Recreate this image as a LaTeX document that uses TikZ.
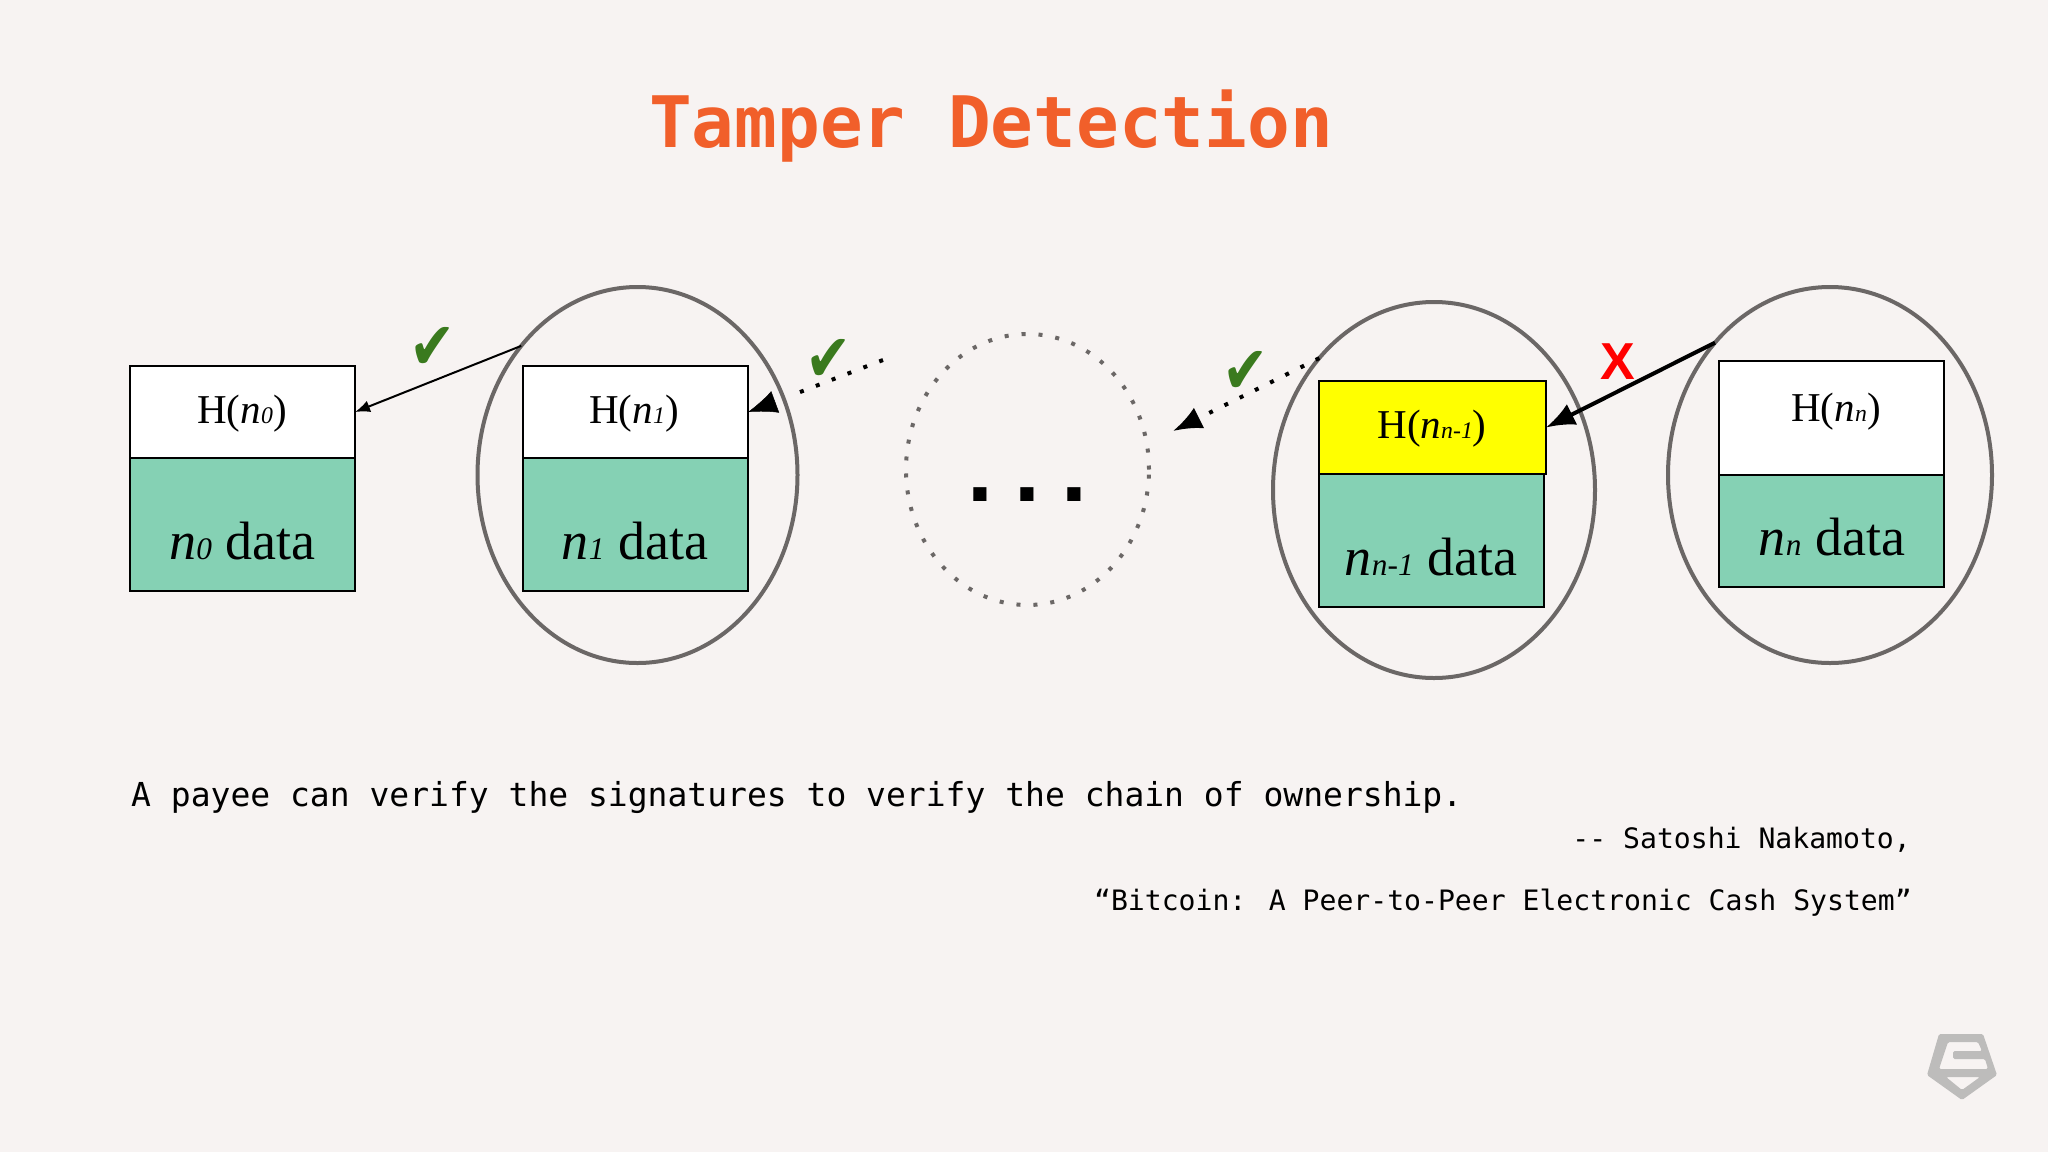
\documentclass[tikz,border=0pt]{standalone}
\usepackage{fontspec}
\usepackage{graphicx}
\usetikzlibrary{shapes.geometric,arrows.meta}
\setmainfont{Liberation Serif}
\newfontfamily\monof{DejaVu Sans Mono}
\newfontfamily\sansf{Liberation Sans}
\newfontfamily\checkf{DejaVu Sans}
\newcommand\subn[1]{\textit{n}\scalebox{0.58}{\textit{#1}}}
\newcommand\okglyph{\scalebox{1.2}[1.45]{✔}}
\definecolor{bgc}{HTML}{F7F3F2}
\definecolor{datac}{HTML}{85D1B4}
\definecolor{ringc}{HTML}{6B6766}
\definecolor{titlec}{HTML}{F15F2A}
\definecolor{checkc}{HTML}{3A7A1E}
\definecolor{logoc}{HTML}{BDBCBB}
\definecolor{hilite}{RGB}{255,255,0}
\tikzset{
  ring/.style={ellipse,draw=ringc,line width=4pt,inner sep=0pt,outer sep=0pt,minimum width=#1},
  hashbox/.style={rectangle,draw=black,line width=2pt,fill=white,inner sep=0pt,outer sep=0pt},
  databox/.style={rectangle,draw=black,line width=2pt,fill=datac,inner sep=0pt,outer sep=0pt},
  hashtext/.style={anchor=base,inner sep=0pt,font=\fontsize{41}{41}\selectfont},
  datatext/.style={anchor=base,inner sep=0pt,font=\fontsize{54}{54}\selectfont},
  okmark/.style={anchor=center,inner sep=0pt,text=checkc,font=\checkf\fontsize{46}{46}\selectfont},
  dots/.style={line width=4pt,dash pattern=on 4pt off 13pt},
  bigtip/.style={-{Latex[length=29pt,width=23pt]}},
}
\begin{document}
\begin{tikzpicture}[x=1pt,y=-1pt]
\fill[bgc] (0,0) rectangle (2048,1152);
\useasboundingbox (0,0) rectangle (2048,1152);

\node[anchor=base,inner sep=0pt,text=titlec,font=\monof\bfseries\fontsize{71}{71}\selectfont] (title) at (991,147) {Tamper Detection};

% rings
\node[ring=320pt,minimum height=376pt] (e1) at (637.5,475) {};
\node[ring=243pt,minimum height=271pt,draw=ringc,dots] (edots) at (1027.5,469.5) {};
\node[ring=322pt,minimum height=376pt] (en1) at (1434,490) {};
\node[ring=324pt,minimum height=376pt] (en) at (1830,475) {};

% boxes
\node[hashbox,minimum width=225pt,minimum height=92pt,anchor=north west] (h0) at (130,366) {};
\node[databox,minimum width=225pt,minimum height=133pt,anchor=north west] (d0) at (130,458) {};
\node[hashbox,minimum width=225pt,minimum height=92pt,anchor=north west] (h1) at (523,366) {};
\node[databox,minimum width=225pt,minimum height=133pt,anchor=north west] (d1) at (523,458) {};
\node[databox,minimum width=224.5pt,minimum height=133pt,anchor=north west] (dn1) at (1319,474) {};
\node[hashbox,fill=hilite,line width=2.5pt,minimum width=227pt,minimum height=93pt,anchor=north west] (hn1) at (1319,381) {};
\node[hashbox,minimum width=225pt,minimum height=114pt,anchor=north west] (hn) at (1719,361) {};
\node[databox,minimum width=225pt,minimum height=112pt,anchor=north west] (dn) at (1719,475) {};

% box texts
\node[hashtext] (th0) at (242,423) {H(\subn{0})};
\node[datatext] (td0) at (242.5,559) {\subn{0} data};
\node[hashtext] (th1) at (634,423) {H(\subn{1})};
\node[datatext] (td1) at (635,559) {\subn{1} data};
\node[hashtext] (thn1) at (1432,438) {H(\subn{n-1})};
\node[datatext] (tdn1) at (1431,575) {\subn{n-1} data};
\node[hashtext] (thn) at (1836,421) {H(\subn{n})};
\node[datatext] (tdn) at (1832,555) {\subn{n} data};

% ellipsis
\node[anchor=base,inner sep=0pt,font=\sansf\bfseries\fontsize{93}{93}\selectfont] (ell) at (1027.5,501) {.\hspace{21pt}.\hspace{21pt}.};

% connectors
\coordinate (c2start) at (883,360);
\coordinate (c2end) at (795,394);
\coordinate (c2base) at (775,402);
\coordinate (c3tip) at (1173,431);
\draw[line width=2pt,-{Latex[length=15pt,width=12pt]}] (e1.132) -- (h0.east);
\draw[dots] (c2start) -- (c2end);
\draw[line width=0.5pt,bigtip] (c2base) -- (h1.east);
\draw[dots,bigtip] (en1.131) -- (c3tip);
\draw[line width=4pt,bigtip] (en.131) -- (hn1.east);

% marks
\node[okmark] (ok1) at (433,348) {\okglyph};
\node[okmark] (ok2) at (829,360) {\okglyph};
\node[okmark] (ok3) at (1246,372) {\okglyph};
\node[anchor=base,inner sep=0pt,text=red,font=\sansf\bfseries\fontsize{52}{52}\selectfont] (xmark) at (1618,379) {X};

% quote
\node[anchor=base west,inner sep=0pt,font=\monof\fontsize{33}{33}\selectfont] (q1) at (131,806) {A payee can verify the signatures to verify the chain of ownership.};
\node[anchor=base east,inner sep=0pt,font=\monof\fontsize{28.1}{28.1}\selectfont] (q2) at (1911,848) {-- Satoshi Nakamoto,};
\node[anchor=base east,inner sep=0pt,font=\monof\fontsize{28.1}{28.1}\selectfont] (q3) at (1912,910) {“Bitcoin: A Peer-to-Peer Electronic Cash System”};

% logo
\fill[logoc,even odd rule,rounded corners=1.5pt]
  (1939,1034) -- (1983,1034) -- (1997,1075) -- (1962,1100) -- (1927,1075) -- cycle
  (1948,1042) -- (1978,1042) -- (1982,1051) -- (1953,1051) -- (1953,1059) -- (1985,1059) -- (1988,1069) -- (1939,1069) -- cycle
  (1946,1077) -- (1980,1077) -- (1962,1090) -- cycle;
\end{tikzpicture}
\end{document}
